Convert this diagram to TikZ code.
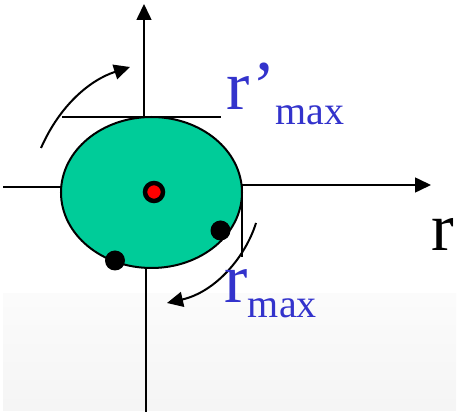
\documentclass[tikz,border=0pt]{standalone}
\usepackage{fontspec}
\setmainfont{Liberation Serif}
\usetikzlibrary{arrows.meta,shapes.geometric}
\definecolor{blobgreen}{RGB}{0,204,153}
\definecolor{lblblue}{RGB}{51,51,204}
\tikzset{
  axis/.style={line width=1.6pt, black},
  axisarrow/.style={axis, -{Triangle[length=16pt,width=15pt]}},
  turn/.style={line width=2pt, black, -{Triangle[length=16pt,width=15pt]}},
  bigtxt/.style={inner sep=0pt, anchor=base west, font=\fontsize{70}{70}\selectfont},
  subtxt/.style={inner sep=0pt, anchor=base west, font=\fontsize{40}{40}\selectfont},
  dot/.style={circle, fill=black, inner sep=0pt, minimum size=20pt}
}
\begin{document}
\begin{tikzpicture}[x=1pt,y=-1pt]
\useasboundingbox (0,0) rectangle (459,414);
\shade[top color=black!1.5, bottom color=black!4, draw=none] (3,294) rectangle (456,411);
% ellipse
\node[ellipse, draw=black, line width=2pt, fill=blobgreen, minimum width=181pt, minimum height=151pt, inner sep=0pt] (E) at (151.5,192.5) {};
% axes
\coordinate (vtop) at (144,4);
\coordinate (vup) at (144,117);
\coordinate (vlow) at (146,268);
\coordinate (vbot) at (146,412);
\coordinate (hleft) at (3,187);
\coordinate (hl) at (61,187);
\coordinate (hr) at (242,185);
\coordinate (hright) at (431,185);
\draw[axisarrow] (vup) -- (vtop);
\draw[axis] (vlow) -- (vbot);
\draw[axis] (hleft) -- (hl);
\draw[axisarrow] (hr) -- (hright);
% tangent lines
\coordinate (t1a) at (62,117);
\coordinate (t1b) at (221,117);
\coordinate (t2b) at (242,257);
\draw[axis] (t1a) -- (t1b);
\draw[axis] (hr) -- (t2b);
% dots
\node[circle, fill=red, draw=black, line width=4.5pt, inner sep=0pt, minimum size=18pt] (c) at (154,192) {};
\node[dot] (d1) at (220.5,230.5) {};
\node[dot] (d2) at (115,260.5) {};
% rotation arrows
\coordinate (a1s) at (41,148);
\coordinate (a1e) at (130,67);
\draw[turn] (a1s) .. controls (60,105) and (90,80) .. (a1e);
\coordinate (a2s) at (256,223);
\coordinate (a2e) at (167,303);
\draw[turn] (a2s) .. controls (245,258) and (215,292) .. (a2e);
% labels
\node[bigtxt, text=lblblue] (rp) at (226,110) {r’};
\node[subtxt, text=lblblue] (rpsub) at ([yshift=-15pt]rp.base east) {max};
\node[bigtxt, text=lblblue] (rm) at (224,303) {r};
\node[subtxt, text=lblblue] (rmsub) at ([yshift=-15pt]rm.base east) {max};
\node[bigtxt, font=\fontsize{68}{68}\selectfont] (rlab) at (431,251) {r};
\end{tikzpicture}
\end{document}
